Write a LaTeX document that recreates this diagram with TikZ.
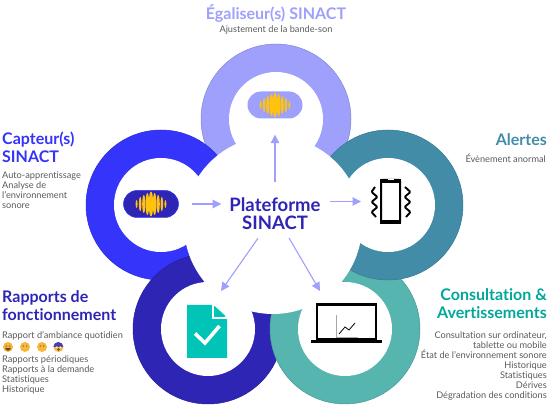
\documentclass[tikz,border=0pt]{standalone}
\usepackage{fontspec}
\setmainfont[Ligatures=NoCommon]{Lato}
\usepackage{xcolor}
\usetikzlibrary{arrows.meta, positioning, shapes.geometric, shapes.misc}

\definecolor{lilacring}{HTML}{9EA0FB}
\definecolor{bluering}{HTML}{3434FA}
\definecolor{darkring}{HTML}{2E25B5}
\definecolor{tealring}{HTML}{438CA8}
\definecolor{greenring}{HTML}{56B5AE}
\definecolor{greytext}{HTML}{5A5A5A}
\definecolor{bartone}{HTML}{FFC20E}
\definecolor{doctone}{HTML}{00C4B5}
\definecolor{facetone}{HTML}{F6B73C}

\tikzset{
    ring/.style={circle, draw=#1!85!black, fill=#1, line width=0.5pt, minimum size=150pt, inner sep=0pt},
    hole/.style={circle, fill=white, minimum size=94pt, inner sep=0pt},
    heading/.style={font=\fontsize{16}{18}\selectfont\bfseries, inner sep=0pt},
    small/.style={font=\fontsize{9.2}{10}\selectfont, text=greytext, inner sep=0pt},
    flow/.style={-{Triangle[length=8.5pt, width=8.5pt]}, draw=lilacring, line width=1.1pt},
    pill/.style={rounded rectangle, minimum width=55pt, minimum height=27pt, inner sep=0pt},
    face/.style={circle, fill=facetone, minimum size=10pt, inner sep=0pt}
}

\newcommand{\soundbars}[1]{
    \foreach \dx/\h/\w in {-14.4/8/1.0, -10.8/14/1.3, -7.2/18/1.6, -3.6/22/1.8, 0/25/2.2, 3.6/22/1.8, 7.2/18/1.6, 10.8/14/1.3, 14.4/8/1.0}
        \fill[bartone] ([xshift=\dx pt]#1) ellipse ({\w pt} and {\h pt/2});
}

\begin{document}
\begin{tikzpicture}[x=1pt, y=-1pt]
    \useasboundingbox (0,0) rectangle (550,411);

    % Rings
    \node[ring=lilacring] (egaliseur) at (276,119) {};
    \node[ring=bluering] (capteur) at (161,205) {};
    \node[ring=darkring] (rapports) at (208,329) {};
    \node[ring=greenring] (consultation) at (345,329) {};
    \node[ring=tealring] (alertes) at (388,205) {};

    % Holes
    \node[hole] at (egaliseur) {};
    \node[hole] at (capteur) {};
    \node[hole] at (rapports) {};
    \node[hole] at (consultation) {};
    \node[hole] at (alertes) {};
    \node[circle, fill=white, minimum size=178pt, inner sep=0pt] (centre) at (273,225) {};

    % Platform
    \node[font=\fontsize{18.5}{18}\selectfont\bfseries, text=darkring, align=center, inner sep=0pt] (platform) at (275,214) {Plateforme\\SINACT};

    % Icons
    \node[pill, fill=lilacring] (egaliseuricon) at (275,105) {};
    \soundbars{egaliseuricon}
    \node[pill, fill=darkring, draw=bluering, line width=0.5pt] (capteuricon) at (151,204) {};
    \soundbars{capteuricon}

    % Phone
    \node[draw=black, fill=white, line width=2pt, rounded corners=1pt, minimum width=19pt, minimum height=43pt, inner sep=0pt] (alerticon) at (390.5,201.5) {};
    \fill[black] (alerticon.north west) rectangle ([yshift=-4pt]alerticon.north east);
    \fill[black] (alerticon.south west) rectangle ([yshift=4pt]alerticon.south east);
    \fill[white] ([yshift=-1.5pt]alerticon.north) ++(-3,0) rectangle ++(6,-1);
    \draw[line width=1.9pt, rounded corners=1pt] (375,187) -- (371.5,192) -- (377.5,197) -- (371.5,202) -- (377.5,207) -- (371.5,212) -- (376,217);
    \draw[line width=1.9pt, rounded corners=1pt] (405,187) -- (410.5,192) -- (404.5,197) -- (410.5,202) -- (404.5,207) -- (410.5,212) -- (406,217);

    % Document
    \node[minimum width=40pt, minimum height=53pt, inner sep=0pt] (docicon) at (207,331.5) {};
    \fill[doctone] (187,305) -- (213,305) -- (227,319) -- (227,358) -- (187,358) -- cycle;
    \draw[white, line width=1.2pt] (213,305) -- (213,318) -- (227,318);
    \fill[doctone] (214.5,306) -- (226,316.5) -- (214.5,316.5) -- cycle;
    \draw[white, line width=3.6pt] (195,333.5) -- (205,343) -- (219.5,326);

    % Laptop
    \node[draw=black, fill=white, line width=2.2pt, minimum width=59pt, minimum height=35pt, inner sep=0pt] (laptopicon) at (346.5,322) {};
    \fill[black] (311,340) rectangle (382,343.5);
    \draw[gray!70, line width=0.8pt] (336,315) -- (336,337) -- (358,337);
    \draw[black, line width=0.8pt] (339,334) -- (345,327) -- (349,330) -- (355,323);

    % Relationships
    \coordinate (rapportstip) at (221,291);
    \coordinate (consultationtip) at (320,291);
    \draw[flow, shorten <=32pt, shorten >=16pt] (platform.center -| egaliseuricon) -- (egaliseuricon);
    \draw[flow, shorten <=13pt, shorten >=8pt] (capteuricon.east) -- (capteuricon.east -| platform.west);
    \draw[flow, shorten <=9pt, shorten >=19pt] (platform.east |- alerticon) -- (alerticon.west);
    \draw[flow, shorten <=10pt] (platform) -- (rapportstip);
    \draw[flow, shorten <=9pt] (platform) -- (consultationtip);

    % Texts: top
    \node[heading, text=lilacring] (egaliseurtitle) at (276,14) {Égaliseur(s) SINACT};
    \node[small] (egaliseurtext) at (276,30) {Ajustement de la bande-son};

    % Texts: left
    \node[heading, text=bluering, align=left, anchor=north west] (capteurtitle) at (2,132) {Capteur(s)\\SINACT};
    \node[small, align=left, anchor=north west] (capteurtext) at (2,171.5) {Auto-apprentissage\\Analyse de\\l'environnement\\sonore};

    % Texts: right
    \node[heading, text=tealring, anchor=north east] (alertestitle) at (547,133) {Alertes};
    \node[small, anchor=north east] (alertestext) at (546,154) {Évènement anormal};

    % Texts: bottom left
    \node[heading, text=darkring, align=left, anchor=north west] (rapportstitle) at (2,290) {Rapports de\\fonctionnement};
    \node[small, anchor=north west] (rapportsfirst) at (2,331.5) {Rapport d'ambiance quotidien};
    \node[small, align=left, anchor=north west] (rapportstext) at (2,355.5) {Rapports périodiques\\Rapports à la demande\\Statistiques\\Historique};

    % Faces
    \foreach \name/\px/\mouth in {faceone/8/0, facetwo/25/1, facethree/42/2, facefour/58.5/3} {
        \node[face] (\name) at (\px,347) {};
        \ifnum\mouth=3
            \fill[blue!50!gray] (\name.west) arc[start angle=180, end angle=0, radius=5pt] -- cycle;
            \fill[white] ([shift={(-1.8,0)}]\name) circle (1pt) ([shift={(1.8,0)}]\name) circle (1pt);
        \fi
        \fill[brown!50!black] ([shift={(-1.8,-1)}]\name) circle (0.6pt) ([shift={(1.8,-1)}]\name) circle (0.6pt);
        \ifnum\mouth=0
            \fill[brown!60!black] ([shift={(-2.8,1)}]\name) arc[start angle=180, end angle=360, radius=2.8pt] -- cycle;
        \fi
        \ifnum\mouth=1
            \draw[brown!60!black, line width=0.6pt] ([shift={(-2,1.8)}]\name) -- ([shift={(2,1.8)}]\name);
        \fi
        \ifnum\mouth=2
            \draw[brown!60!black, line width=0.6pt] ([shift={(-1.8,2.4)}]\name) -- ([shift={(1.8,1.6)}]\name);
        \fi
        \ifnum\mouth=3
            \fill[brown!60!black] ([shift={(0,2.5)}]\name) circle (1.3pt);
        \fi
    }

    % Texts: bottom right
    \node[heading, text=doctone!85!black, align=right, anchor=north east] (consultationtitle) at (547,288) {Consultation \&\\Avertissements};
    \node[small, align=right, anchor=north east] (consultationtext) at (547,331.5) {Consultation sur ordinateur,\\tablette ou mobile\\État de l'environnement sonore\\Historique\\Statistiques\\Dérives\\Dégradation des conditions};
\end{tikzpicture}
\end{document}
